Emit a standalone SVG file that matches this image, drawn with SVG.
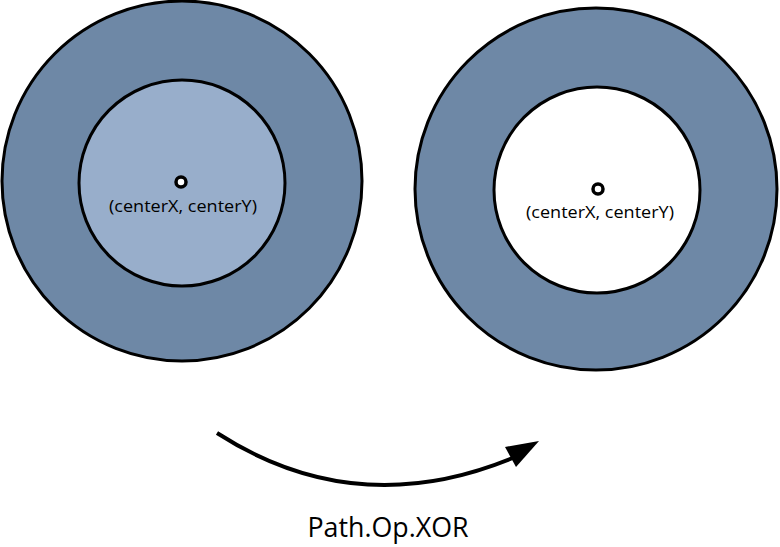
<svg xmlns="http://www.w3.org/2000/svg" width="780" height="547" viewBox="0 0 780 547">
<style>
.ring{fill:#6e88a6;stroke:#000;stroke-width:3}
.inner{stroke:#000;stroke-width:3}
.dot{fill:#fff;stroke:#000;stroke-width:3.5}
.lbl{font-family:"Open Sans","Noto Sans",sans-serif;font-size:17px;fill:#000;text-anchor:middle}
.op{font-family:"Open Sans","Noto Sans",sans-serif;font-size:28px;fill:#000;text-anchor:middle}
</style>
<rect width="780" height="547" fill="#fff"/>
<g id="left">
<circle class="ring" cx="182" cy="181" r="180"/>
<circle class="inner" cx="182" cy="183" r="103" fill="#98aecb"/>
<circle class="dot" cx="181" cy="182" r="5"/>
<text class="lbl" x="183" y="212" textLength="148" lengthAdjust="spacingAndGlyphs">(centerX, centerY)</text>
</g>
<g id="right">
<circle class="ring" cx="596" cy="189" r="181"/>
<circle class="inner" cx="597" cy="190" r="103" fill="#fff"/>
<circle class="dot" cx="598" cy="189" r="5"/>
<text class="lbl" x="600" y="218" textLength="148" lengthAdjust="spacingAndGlyphs">(centerX, centerY)</text>
</g>
<g id="connectors">
<path d="M217,433 Q360,525 522,454" fill="none" stroke="#000" stroke-width="4"/>
<polygon points="539,441 505,447 516,467" fill="#000"/>
</g>
<text class="op" x="388" y="537" textLength="161" lengthAdjust="spacingAndGlyphs">Path.Op.XOR</text>
</svg>
